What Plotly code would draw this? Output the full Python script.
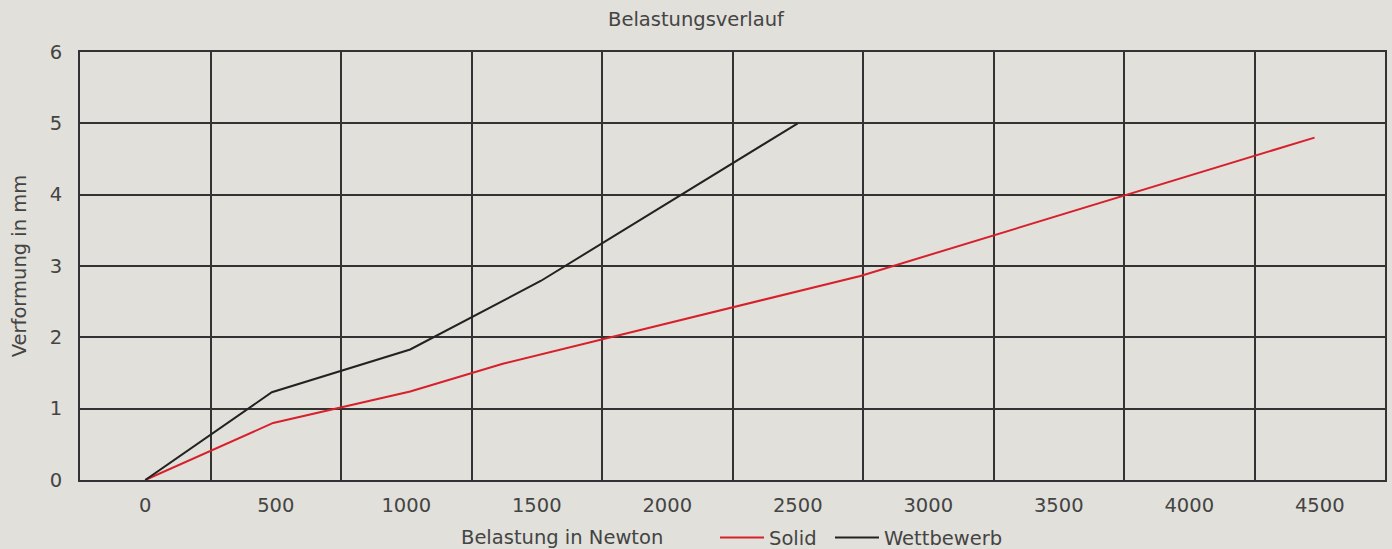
import plotly.graph_objects as go

solid_x = [0, 490, 1015, 1370, 2740, 4480]
solid_y = [0, 0.80, 1.24, 1.63, 2.86, 4.80]
wett_x = [0, 485, 1015, 1515, 2500]
wett_y = [0, 1.23, 1.83, 2.79, 5.0]
x_ticks = [0, 500, 1000, 1500, 2000, 2500, 3000, 3500, 4000, 4500]
x_grid = [250, 750, 1250, 1750, 2250, 2750, 3250, 3750, 4250]
y_ticks = [0, 1, 2, 3, 4, 5, 6]

BG = "#e1e0da"
GRID = "#333333"
TXT = "#444444"
FONT = "DejaVu Sans"

fig = go.Figure()
fig.add_trace(go.Scatter(x=solid_x, y=solid_y, mode="lines", name="Solid",
                         line=dict(color="#d7202b", width=2), legend="legend"))
fig.add_trace(go.Scatter(x=wett_x, y=wett_y, mode="lines", name="Wettbewerb",
                         line=dict(color="#222222", width=2), legend="legend2"))

leg_common = dict(orientation="h", xanchor="left", y=-0.135, yanchor="middle",
                  bgcolor="rgba(0,0,0,0)", font=dict(size=19.5, color=TXT), itemwidth=44)

fig.update_layout(
    width=1392, height=549,
    paper_bgcolor=BG, plot_bgcolor=BG,
    margin=dict(l=80, r=7, t=52, b=69, autoexpand=False),
    font=dict(family=FONT, size=19, color=TXT),
    title=dict(text="Belastungsverlauf", x=0.5, xanchor="center", y=0.965, yanchor="middle",
               font=dict(size=19.5, color=TXT)),
    showlegend=True,
    legend=dict(x=0.4866, **leg_common),
    legend2=dict(x=0.5747, **leg_common),
    xaxis=dict(range=[-250, 4750], tickvals=x_ticks, ticktext=[str(v) for v in x_ticks],
               showgrid=False, zeroline=False, showline=True, linecolor=GRID, linewidth=2,
               mirror=True, ticks="", ticklabelstandoff=7, tickfont=dict(size=19.5),
               minor=dict(tickvals=x_grid, showgrid=True, gridcolor=GRID, gridwidth=2, ticks="")),
    yaxis=dict(range=[0, 6], tickvals=y_ticks, showgrid=True, gridcolor=GRID, gridwidth=2,
               zeroline=False, showline=True, linecolor=GRID, linewidth=2, mirror=True,
               ticks="", ticklabelstandoff=12, tickfont=dict(size=19.5),
               title=dict(text="Verformung in mm", font=dict(size=19.5, color=TXT), standoff=18)),
)

fig.add_annotation(text="Belastung in Newton", xref="paper", yref="paper",
                   x=0.369, y=-0.135, xanchor="center", yanchor="middle", showarrow=False,
                   font=dict(size=19.5, color=TXT))

fig.write_html("out.html", config={"displayModeBar": False},
               post_script="document.body.style.margin='0';document.body.style.background='%s';" % BG)
